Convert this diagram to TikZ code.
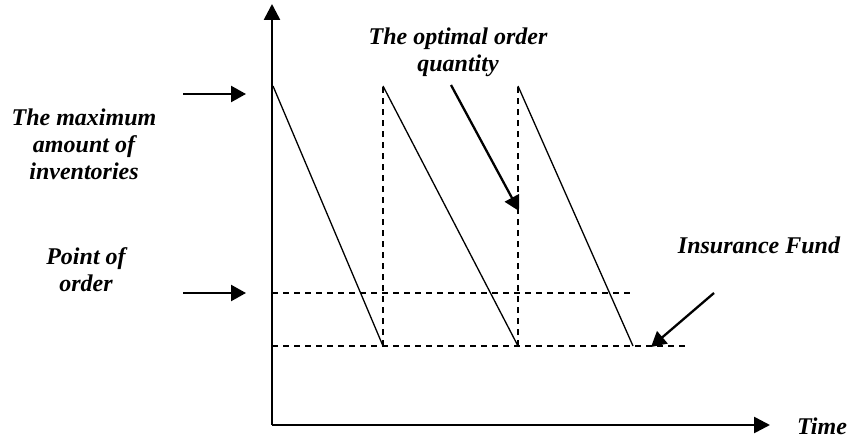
\documentclass[tikz,border=0pt]{standalone}
\usepackage{fontspec}
\setmainfont{Liberation Serif}
\usetikzlibrary{positioning,arrows.meta}

\begin{document}
\begin{tikzpicture}[
  x=1pt, y=-1pt,
  font=\fontsize{24}{27}\selectfont\bfseries\itshape,
  lbl/.style={align=center, inner sep=0pt},
  axis/.style={-{Triangle[length=16pt, width=16pt]}, line width=2.6pt},
  saw/.style={line width=1.3pt},
  lvl/.style={line width=1.3pt, dash pattern=on 6pt off 5pt},
  ptr/.style={-{Triangle[length=15pt, width=16pt]}, line width=2.3pt}
]
\useasboundingbox (0,0) rectangle (848,441);
% axes
\coordinate (o) at (272,425);
\coordinate (ytop) at (272,4);
\coordinate (xend) at (770,425);
\draw[axis] (o) -- (ytop);
\draw[axis] (o) -- (xend);
% sawtooth corners
\coordinate (p1) at (273,86);
\coordinate (b1) at (383,346);
\coordinate (p2) at (383,86);
\coordinate (b2) at (518,346);
\coordinate (p3) at (518,86);
\coordinate (b3) at (633,346);
\draw[saw] (p1) -- (b1);
\draw[saw] (p2) -- (b2);
\draw[saw] (p3) -- (b3);
\draw[lvl] (b1) -- (p2);
\draw[lvl] (b2) -- (p3);
% safety and reorder levels
\coordinate (s0) at (272,346);
\coordinate (s1) at (686,346);
\coordinate (r0) at (272,293);
\coordinate (r1) at (631,293);
\draw[lvl] (s0) -- (s1);
\draw[lvl] (r0) -- (r1);
% labels
\node[lbl] (max) at (84,144) {The maximum\\amount of\\inventories};
\node[lbl] (pt) at (86,270) {Point of\\order};
\node[lbl] (opt) at (458,52) {The optimal order\\quantity};
\node[lbl] (ins) at (759,245) {Insurance Fund};
\node[lbl] (time) at (822,426) {Time};
% pointers
\coordinate (m0) at (183,94);
\coordinate (m1) at (246,94);
\coordinate (q0) at (183,293);
\coordinate (q1) at (246,293);
\coordinate (o0) at (451,85);
\coordinate (o1) at (519,211);
\coordinate (i0) at (714,293);
\coordinate (i1) at (651,347);
\draw[ptr] (m0) -- (m1);
\draw[ptr] (q0) -- (q1);
\draw[ptr] (o0) -- (o1);
\draw[ptr] (i0) -- (i1);
\end{tikzpicture}
\end{document}
